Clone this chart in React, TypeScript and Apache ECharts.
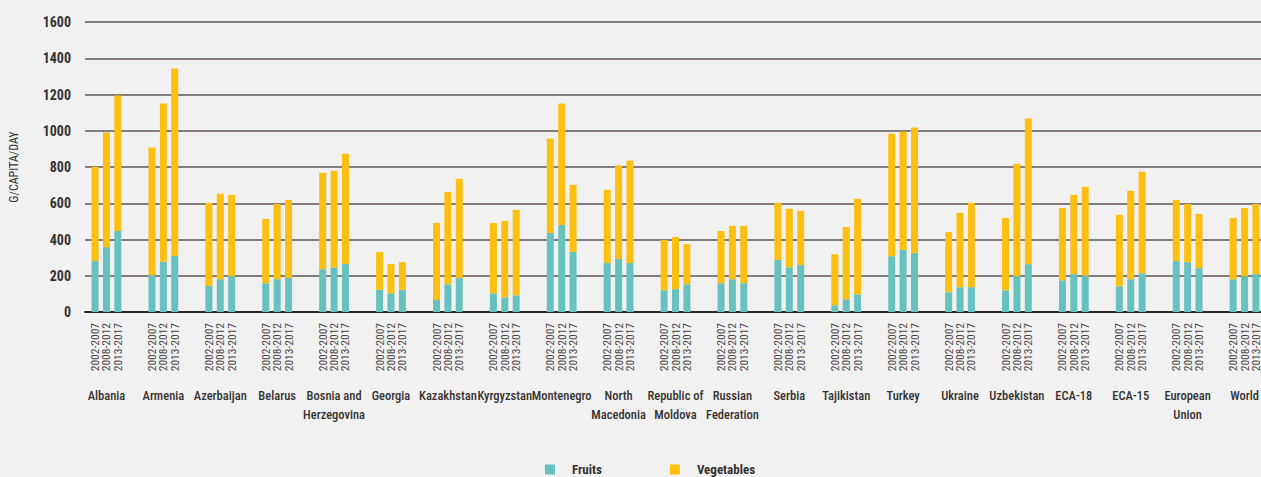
import React, { useEffect, useRef } from "react";
import * as echarts from "echarts";

const groups = [
  "Albania", "Armenia", "Azerbaijan", "Belarus", "Bosnia and\nHerzegovina", "Georgia",
  "Kazakhstan", "Kyrgyzstan", "Montenegro", "North\nMacedonia", "Republic of\nMoldova",
  "Russian\nFederation", "Serbia", "Tajikistan", "Turkey", "Ukraine", "Uzbekistan",
  "ECA-18", "ECA-15", "European\nUnion", "World",
];
const periods = ["2002-2007", "2008-2012", "2013-2017"];

// Fruits (g/capita/day) per period
const fruits0207 = [281, 203, 144, 159, 236, 122, 66, 103, 436, 270, 120, 159, 288, 37, 308, 109, 120, 175, 142, 281, 181];
const fruits0812 = [358, 277, 181, 181, 244, 103, 153, 81, 480, 292, 126, 181, 247, 70, 342, 137, 198, 209, 181, 275, 198];
const fruits1317 = [447, 310, 198, 188, 266, 122, 187, 92, 332, 270, 153, 159, 259, 98, 325, 137, 264, 201, 214, 242, 209];

// Vegetables (g/capita/day) per period
const veg0207 = [520, 704, 458, 354, 532, 209, 425, 388, 521, 404, 277, 288, 314, 282, 676, 332, 399, 399, 394, 338, 338];
const veg0812 = [632, 873, 471, 415, 535, 161, 510, 421, 670, 517, 288, 294, 322, 399, 653, 410, 620, 437, 488, 321, 376];
const veg1317 = [748, 1034, 448, 431, 607, 153, 548, 471, 370, 565, 222, 316, 299, 526, 693, 465, 803, 490, 560, 299, 387];

const yTicks = { min: 0, max: 1600, interval: 200 };

const FONT = "'Roboto Condensed', 'Open Sans Condensed', Roboto, sans-serif";
const TEAL = "#67c1bf";
const YELLOW = "#fdbf10";
const TEXT = "#363232";

function buildSlots() {
  const labels: string[] = [];
  const fr: (number | null)[] = [];
  const vg: (number | null)[] = [];
  const fruitsByPeriod = [fruits0207, fruits0812, fruits1317];
  const vegByPeriod = [veg0207, veg0812, veg1317];
  groups.forEach((_, g) => {
    labels.push("");
    fr.push(null);
    vg.push(null);
    periods.forEach((p, k) => {
      labels.push(p);
      fr.push(fruitsByPeriod[k][g]);
      vg.push(vegByPeriod[k][g]);
    });
    labels.push("");
    fr.push(null);
    vg.push(null);
  });
  return { labels, fr, vg };
}

export default function App() {
  const ref = useRef<HTMLDivElement>(null);
  useEffect(() => {
    if (!ref.current) return;
    const chart = echarts.init(ref.current, undefined, { renderer: "svg" });
    const { labels, fr, vg } = buildSlots();
    const top = 22;
    const height = 290;
    chart.setOption({
      animation: false,
      backgroundColor: "#f1f1f1",
      textStyle: { fontFamily: FONT },
      grid: [
        { left: 82.5, top, height, width: 1190 },
        { left: 78, top, height, width: 1195 },
      ],
      legend: {
        data: ["Fruits", "Vegetables"],
        left: 545,
        top: 463,
        padding: 0,
        itemWidth: 10,
        itemHeight: 10,
        itemGap: 68,
        icon: "rect",
        textStyle: { fontFamily: FONT, fontSize: 13, fontWeight: "bold", color: TEXT, padding: [0, 0, 0, 12] },
      },
      xAxis: [
        {
          gridIndex: 0,
          type: "value",
          min: 0,
          max: 1,
          axisLine: { show: true, onZero: false, lineStyle: { color: "#2e2424", width: 2 } },
          axisTick: { show: false },
          axisLabel: { show: false },
          splitLine: { show: false },
        },
        {
          gridIndex: 1,
          type: "category",
          data: labels,
          axisLine: { show: false },
          axisTick: { show: false },
          axisLabel: {
            interval: 0,
            rotate: 90,
            margin: 11,
            fontFamily: FONT,
            fontSize: 11.5,
            color: "#4a4646",
          },
        },
        {
          gridIndex: 1,
          type: "category",
          position: "bottom",
          data: groups,
          axisLine: { show: false },
          axisTick: { show: false },
          axisLabel: {
            interval: 0,
            margin: 74,
            fontFamily: FONT,
            fontSize: 12.5,
            fontWeight: 500,
            lineHeight: 19,
            color: TEXT,
          },
        },
      ],
      yAxis: [
        {
          gridIndex: 0,
          type: "value",
          ...yTicks,
          name: "G/CAPITA/DAY",
          nameLocation: "middle",
          nameGap: 65,
          nameRotate: 90,
          nameTextStyle: { fontFamily: FONT, fontSize: 12, color: TEXT },
          axisLine: { show: false },
          axisTick: { show: false },
          axisLabel: {
            margin: 14,
            fontFamily: FONT,
            fontSize: 14,
            fontWeight: "bold",
            color: TEXT,
            formatter: (v: number) => String(v),
          },
          splitLine: { lineStyle: { color: "#5e5454", width: 1.5 } },
        },
        {
          gridIndex: 1,
          type: "value",
          ...yTicks,
          show: false,
          splitLine: { show: false },
        },
      ],
      series: [
        {
          name: "Fruits",
          type: "bar",
          stack: "total",
          xAxisIndex: 1,
          yAxisIndex: 1,
          barWidth: 7,
          itemStyle: { color: TEAL },
          data: fr,
        },
        {
          name: "Vegetables",
          type: "bar",
          stack: "total",
          xAxisIndex: 1,
          yAxisIndex: 1,
          barWidth: 7,
          itemStyle: { color: YELLOW },
          data: vg,
        },
      ],
    });
    return () => chart.dispose();
  }, []);
  return (
    <div
      style={{
        position: "fixed",
        left: 0,
        top: 0,
        width: 1261,
        height: 477,
        overflow: "hidden",
        background: "#f1f1f1",
      }}
    >
      <div ref={ref} style={{ width: 1290, height: 477 }} />
    </div>
  );
}
